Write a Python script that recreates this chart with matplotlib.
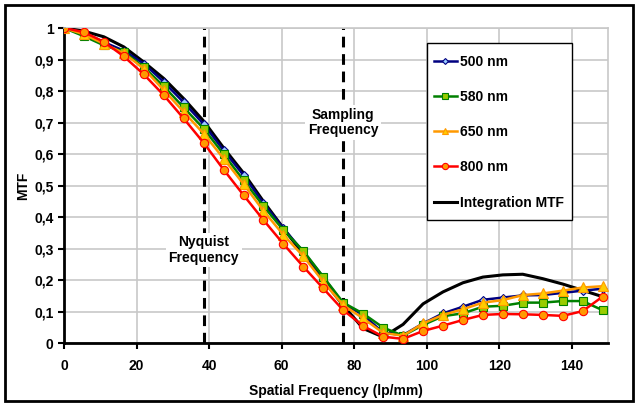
import matplotlib
matplotlib.use("Agg")
import matplotlib.pyplot as plt
from matplotlib.patches import Rectangle
from matplotlib.ticker import FuncFormatter

plt.rcParams["font.family"] = ["Liberation Sans", "DejaVu Sans"]
plt.rcParams["font.weight"] = "bold"

freq = [0, 5.5, 11, 16.5, 22, 27.5, 33, 38.5, 44, 49.5, 55, 60.5, 66, 71.5,
        77, 82.5, 88, 93.5, 99, 104.5, 110, 115.5, 121, 126.5, 132, 137.5,
        143, 148.5]

mtf_500 = [1.0, 0.985, 0.955, 0.928, 0.887, 0.829, 0.764, 0.695, 0.612,
           0.533, 0.444, 0.365, 0.29, 0.21, 0.125, 0.09, 0.034, 0.026,
           0.063, 0.095, 0.116, 0.138, 0.145, 0.152, 0.153, 0.16, 0.167,
           0.173]
mtf_580 = [1.0, 0.974, 0.945, 0.924, 0.876, 0.815, 0.748, 0.681, 0.6, 0.517,
           0.435, 0.359, 0.293, 0.211, 0.129, 0.094, 0.05, 0.024, 0.058,
           0.086, 0.095, 0.116, 0.119, 0.129, 0.129, 0.134, 0.134, 0.105]
mtf_650 = [1.0, 0.98, 0.95, 0.92, 0.871, 0.803, 0.734, 0.665, 0.586, 0.505,
           0.42, 0.344, 0.276, 0.195, 0.121, 0.079, 0.033, 0.024, 0.063,
           0.09, 0.108, 0.129, 0.137, 0.153, 0.158, 0.167, 0.177, 0.181]
mtf_800 = [1.0, 0.987, 0.956, 0.91, 0.853, 0.787, 0.713, 0.636, 0.551, 0.47,
           0.391, 0.315, 0.243, 0.174, 0.105, 0.055, 0.021, 0.014, 0.039,
           0.056, 0.074, 0.09, 0.093, 0.092, 0.09, 0.087, 0.102, 0.148]
mtf_int = [1.0, 0.99, 0.972, 0.94, 0.892, 0.84, 0.776, 0.705, 0.62, 0.54,
           0.45, 0.365, 0.282, 0.2, 0.12, 0.047, 0.02, 0.06, 0.125, 0.163,
           0.192, 0.21, 0.217, 0.219, 0.205, 0.188, 0.168, 0.148]

nyquist = 38.5
sampling = 77

W, H = 638, 403
fig = plt.figure(figsize=(W / 100, H / 100), dpi=100)
ax = fig.add_axes([64 / W, 1 - 343.3 / H, 544 / W, 315.3 / H])

grid_c = "#c8c8c8"
ax.set_xlim(0, 150)
ax.set_ylim(0, 1)
ax.set_xticks(range(0, 150, 20))
ax.set_yticks([i / 10 for i in range(11)])
ax.grid(True, color=grid_c, linewidth=1.2)
ax.set_axisbelow(True)
for side in ("top", "right"):
    ax.spines[side].set_color(grid_c)
    ax.spines[side].set_linewidth(1.2)
for side in ("left", "bottom"):
    ax.spines[side].set_color("black")
    ax.spines[side].set_linewidth(2)
ax.tick_params(direction="out", length=4, width=1.5, labelsize=10)
ax.tick_params(axis="x", pad=7)
ax.yaxis.set_major_formatter(
    FuncFormatter(lambda v, p: f"{v:.1f}".replace(".", ",")
                  if 0 < v < 1 else f"{v:.0f}"))

ax.plot(freq, mtf_500, color="#000080", lw=1.8, marker="D", ms=4,
        mfc="#99ccff", mec="#000080", mew=0.8, label="500 nm", zorder=3)
ax.plot(freq, mtf_580, color="#008000", lw=1.8, marker="s", ms=6,
        mfc="#99cc00", mec="#008000", mew=0.8, label="580 nm", zorder=3)
ax.plot(freq, mtf_650, color="#ff9900", lw=1.8, marker="^", ms=6.5,
        mfc="#ffcc00", mec="#ff9900", mew=0.8, label="650 nm", zorder=3)
ax.plot(freq, mtf_800, color="#ff0000", lw=1.8, marker="o", ms=6,
        mfc="#ff9900", mec="#ff0000", mew=0.8, label="800 nm", zorder=3)
ax.plot(freq, mtf_int, color="black", lw=2.2, label="Integration MTF",
        zorder=2.9)

for xv in (nyquist, sampling):
    ax.axvline(xv, color="black", lw=2.2, ls=(0, (3.5, 2.2)), zorder=2)

box = dict(facecolor="white", edgecolor="none", pad=2)
ax.text(nyquist, 0.296, "Nyquist\nFrequency", ha="center", va="center",
        fontsize=10, fontweight="bold", bbox=box, zorder=2.5,
        linespacing=1.1)
ax.text(sampling, 0.70, "Sampling\nFrequency", ha="center", va="center",
        fontsize=10, fontweight="bold", bbox=box, zorder=2.5,
        linespacing=1.1)

ax.set_xlabel("Spatial Frequency (lp/mm)", fontsize=10, fontweight="bold",
              labelpad=8)
ax.set_ylabel("MTF", fontsize=10, fontweight="bold", labelpad=3)

# legend box drawn by hand (Excel-style: tight sides, roomy top/bottom)
ax.add_patch(Rectangle((427 / W, 1 - 220 / H), 145 / W, 177 / H,
                       transform=fig.transFigure, facecolor="white",
                       edgecolor="black", linewidth=1.0, zorder=4,
                       clip_on=False))
leg = ax.legend(loc="upper left", bbox_to_anchor=(434 / W, 1 - 54.5 / H),
                bbox_transform=fig.transFigure, fontsize=10, frameon=False,
                labelspacing=1.53, handlelength=1.65, handletextpad=0.2,
                borderpad=0, borderaxespad=0, markerscale=0.75)
leg.set_zorder(5)

fig.add_artist(Rectangle((0.0085, 0.006), 0.984, 0.982,
                         transform=fig.transFigure, fill=False,
                         edgecolor="black", linewidth=2))

fig.savefig("out.png", dpi=100, facecolor="white")
